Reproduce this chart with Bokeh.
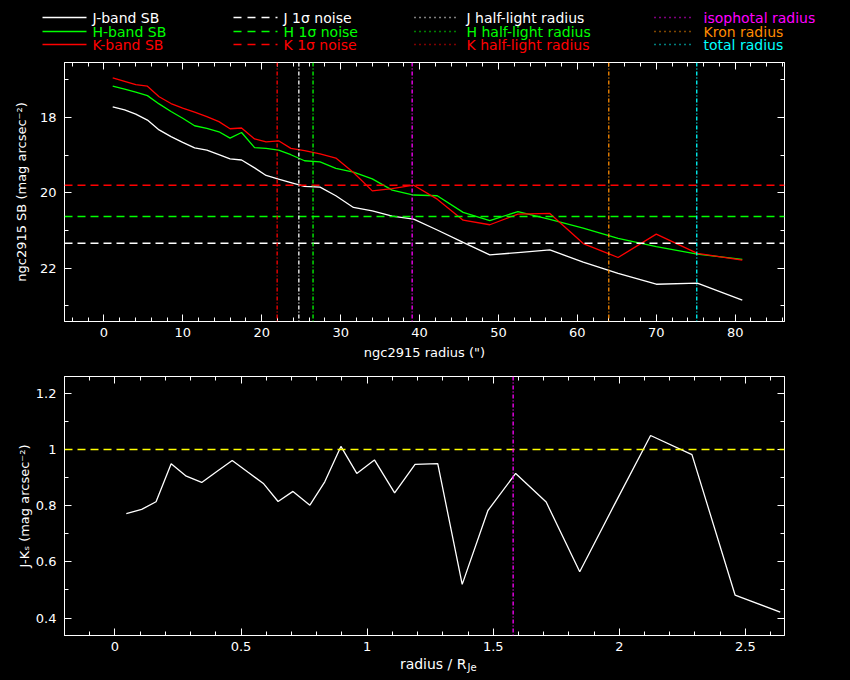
from bokeh.plotting import figure
from bokeh.models import (Range1d, LinearAxis, SingleIntervalTicker, Span,
                          CustomJSTickFormatter, GlobalInlineStyleSheet)
from bokeh.layouts import column
from bokeh.embed import file_html
from bokeh.resources import INLINE
from bokeh.core.properties import value

FONT = "DejaVu Sans"
WHITE = "#ffffff"; GREEN = "#00ff00"; RED = "#ff0000"
MAGENTA = "#ff00ff"; ORANGE = "#ff8c00"; CYAN = "#00ffff"; YELLOW = "#ffff00"

# ---------------- data ----------------
radius = [1.11, 2.62, 4.03, 5.51, 6.99, 8.50, 9.98, 11.49, 13.04, 14.57, 15.98,
          17.44, 19.09, 20.55, 22.13, 23.69, 25.42, 27.39, 29.39, 31.62, 34.01,
          36.53, 39.25, 42.24, 45.52, 48.90, 52.46, 56.51, 60.74, 65.16, 70.0,
          75.2, 80.9]
j_sb = [17.72, 17.80, 17.91, 18.07, 18.33, 18.51, 18.66, 18.81, 18.87, 18.99, 19.10,
        19.13, 19.34, 19.54, 19.64, 19.73, 19.83, 19.85, 20.08, 20.39, 20.48,
        20.62, 20.70, 20.99, 21.32, 21.65, 21.59, 21.52, 21.84, 22.14, 22.43,
        22.40, 22.85]
h_sb = [17.17, 17.25, 17.33, 17.42, 17.64, 17.84, 18.02, 18.22, 18.29, 18.38, 18.55,
        18.40, 18.80, 18.82, 18.87, 18.99, 19.15, 19.18, 19.35, 19.45, 19.63,
        19.93, 20.06, 20.08, 20.52, 20.74, 20.50, 20.71, 20.94, 21.21, 21.43,
        21.63, 21.77]
k_sb = [16.95, 17.04, 17.13, 17.17, 17.45, 17.63, 17.75, 17.86, 17.98, 18.11, 18.30,
        18.28, 18.57, 18.65, 18.62, 18.82, 18.88, 18.97, 19.08, 19.46, 19.95,
        19.89, 19.80, 20.17, 20.73, 20.85, 20.57, 20.55, 21.35, 21.72, 21.10,
        21.61, 21.79]

noise_j, noise_h, noise_k = 21.34, 20.63, 19.80
half_j, half_h, half_k = 24.7, 26.5, 21.95
iso_radius, kron_radius, total_radius = 39.06, 63.98, 75.13

r_over_rje = [0.045, 0.106, 0.163, 0.223, 0.283, 0.344, 0.404, 0.465, 0.528, 0.590,
              0.647, 0.706, 0.773, 0.832, 0.896, 0.959, 1.029, 1.109, 1.190, 1.280,
              1.377, 1.479, 1.589, 1.710, 1.843, 1.980, 2.124, 2.288, 2.459, 2.638]
j_minus_k = [0.772, 0.787, 0.814, 0.949, 0.905, 0.883, 0.922, 0.961, 0.919, 0.878,
             0.815, 0.851, 0.802, 0.885, 1.011, 0.915, 0.963, 0.846, 0.947, 0.950,
             0.520, 0.783, 0.915, 0.813, 0.565, 0.803, 1.050, 0.982, 0.482, 0.421]
iso_rje = 1.579
jk_reference = 1.0

legend_col1 = ["J-band SB", "H-band SB", "K-band SB"]
legend_col2 = ["J 1\u03c3 noise", "H 1\u03c3 noise", "K 1\u03c3 noise"]
legend_col3 = ["J half-light radius", "H half-light radius", "K half-light radius"]
legend_col4 = ["isophotal radius", "Kron radius", "total radius"]
band_colors = [WHITE, GREEN, RED]
radius_colors = [MAGENTA, ORANGE, CYAN]

W = 850
DOT = "4 2 1 2"
DASH = "8 5"

# ---------------- helpers ----------------
def style_axis(ax, ticker, fmt=None, labels=True, standoff=8, label_standoff=5):
    ax.ticker = ticker
    if fmt is not None:
        ax.formatter = fmt
    ax.axis_line_color = WHITE
    ax.major_tick_line_color = WHITE
    ax.minor_tick_line_color = WHITE
    ax.major_tick_in = 7
    ax.major_tick_out = 0
    ax.minor_tick_in = 4
    ax.minor_tick_out = 0
    ax.major_label_text_color = WHITE
    ax.major_label_text_font = FONT
    ax.major_label_text_font_size = "13px" if labels else "0px"
    ax.major_label_standoff = standoff if labels else 0
    ax.axis_label_text_color = WHITE
    ax.axis_label_text_font = FONT
    ax.axis_label_text_font_size = "13px"
    ax.axis_label_text_font_style = "normal"
    ax.axis_label_standoff = label_standoff


def blank():
    return CustomJSTickFormatter(code="return '';")


def nice():
    return CustomJSTickFormatter(code="return (Math.round(tick*10)/10).toString();")


def base_fig(height, xr, yr, top, bottom):
    p = figure(width=W, height=height, x_range=xr, y_range=yr,
               output_backend="svg", toolbar_location=None,
               min_border_left=64, min_border_right=W - 64 - 720,
               min_border_top=top, min_border_bottom=bottom,
               background_fill_color="black", border_fill_color="black",
               outline_line_color=WHITE)
    p.xgrid.visible = False
    p.ygrid.visible = False
    return p


def strip_fig(height):
    p = figure(width=W, height=height, x_range=Range1d(0, W), y_range=Range1d(height, 0),
               output_backend="svg", toolbar_location=None,
               x_axis_type=None, y_axis_type=None,
               min_border_left=0, min_border_right=0, min_border_top=0, min_border_bottom=0,
               background_fill_color="black", border_fill_color="black",
               outline_line_color=None)
    p.xgrid.visible = False
    p.ygrid.visible = False
    if "frame_align" in p.properties():
        p.frame_align = False
    return p

# ---------------- legend strip ----------------
leg = strip_fig(56)
rows = [17, 31, 44]
cols = [(42, 86, 92, None, legend_col1, band_colors),
        (233, 277, 283, "8 6", legend_col2, band_colors),
        (414, 456, 466, "1 4", legend_col3, band_colors),
        (654, 693, 703, "1 4", legend_col4, radius_colors)]
for x0, x1, xt, dash, labels, colors in cols:
    kw = {} if dash is None else {"line_dash": dash}
    leg.segment(x0=[x0] * 3, y0=rows, x1=[x1] * 3, y1=rows, line_color=colors,
                line_width=1.5, **kw)
    leg.text(x=[xt] * 3, y=rows, text=labels, text_color=colors,
             text_font=value(FONT), text_font_size="14px",
             text_baseline="middle", text_align="left")

# ---------------- top panel ----------------
top = base_fig(315, Range1d(-5.0, 86.25), Range1d(23.42, 16.54), 6, 50)
style_axis(top.xaxis[0], SingleIntervalTicker(interval=10, num_minor_ticks=5),
           standoff=6, label_standoff=5)
style_axis(top.yaxis[0], SingleIntervalTicker(interval=2, num_minor_ticks=2),
           standoff=8, label_standoff=8)
top.xaxis[0].axis_label = 'ngc2915 radius (")'
top.yaxis[0].axis_label = "ngc2915 SB (mag arcsec\u207b\u00b2)"
ax = LinearAxis()
style_axis(ax, SingleIntervalTicker(interval=10, num_minor_ticks=5), blank(), labels=False)
top.add_layout(ax, "above")
ay = LinearAxis()
style_axis(ay, SingleIntervalTicker(interval=2, num_minor_ticks=2), blank(), labels=False)
top.add_layout(ay, "right")

for loc, col in [(noise_j, WHITE), (noise_h, GREEN), (noise_k, RED)]:
    top.add_layout(Span(location=loc, dimension="width", line_color=col,
                        line_dash=DASH, line_width=1.6))
for loc, col in [(half_j, WHITE), (half_h, GREEN), (half_k, RED),
                 (iso_radius, MAGENTA), (kron_radius, ORANGE), (total_radius, CYAN)]:
    top.add_layout(Span(location=loc, dimension="height", line_color=col,
                        line_dash=DOT, line_width=1.3))

top.line(radius, j_sb, line_color=WHITE, line_width=1.3)
top.line(radius, h_sb, line_color=GREEN, line_width=1.3)
top.line(radius, k_sb, line_color=RED, line_width=1.3)

# ---------------- bottom panel ----------------
bot = base_fig(284, Range1d(-0.2, 2.655), Range1d(0.338, 1.26), 5, 20)
style_axis(bot.xaxis[0], SingleIntervalTicker(interval=0.5, num_minor_ticks=5), nice(),
           standoff=6)
style_axis(bot.yaxis[0], SingleIntervalTicker(interval=0.2, num_minor_ticks=2), nice(),
           standoff=8, label_standoff=1)
bot.yaxis[0].axis_label = "J-K\u209b (mag arcsec\u207b\u00b2)"
bx = LinearAxis()
style_axis(bx, SingleIntervalTicker(interval=0.5, num_minor_ticks=5), blank(), labels=False)
bot.add_layout(bx, "above")
by = LinearAxis()
style_axis(by, SingleIntervalTicker(interval=0.2, num_minor_ticks=2), blank(), labels=False)
bot.add_layout(by, "right")

bot.add_layout(Span(location=jk_reference, dimension="width", line_color=YELLOW,
                    line_dash=DASH, line_width=1.6))
bot.add_layout(Span(location=iso_rje, dimension="height", line_color=MAGENTA,
                    line_dash=DOT, line_width=1.3))
bot.line(r_over_rje, j_minus_k, line_color=WHITE, line_width=1.3)

# ---------------- bottom axis title strip ----------------
xlab = strip_fig(25)
xlab.text(x=[466], y=[8], text=["radius / R"], text_color=WHITE,
          text_font=value(FONT), text_font_size="14px",
          text_baseline="middle", text_align="right")
xlab.text(x=[467], y=[12], text=["Je"], text_color=WHITE,
          text_font=value(FONT), text_font_size="10px",
          text_baseline="middle", text_align="left")

layout = column(leg, top, bot, xlab,
                stylesheets=[GlobalInlineStyleSheet(css="html, body { background-color: black; }")])

open("out.html", "w").write(file_html(layout, INLINE))
